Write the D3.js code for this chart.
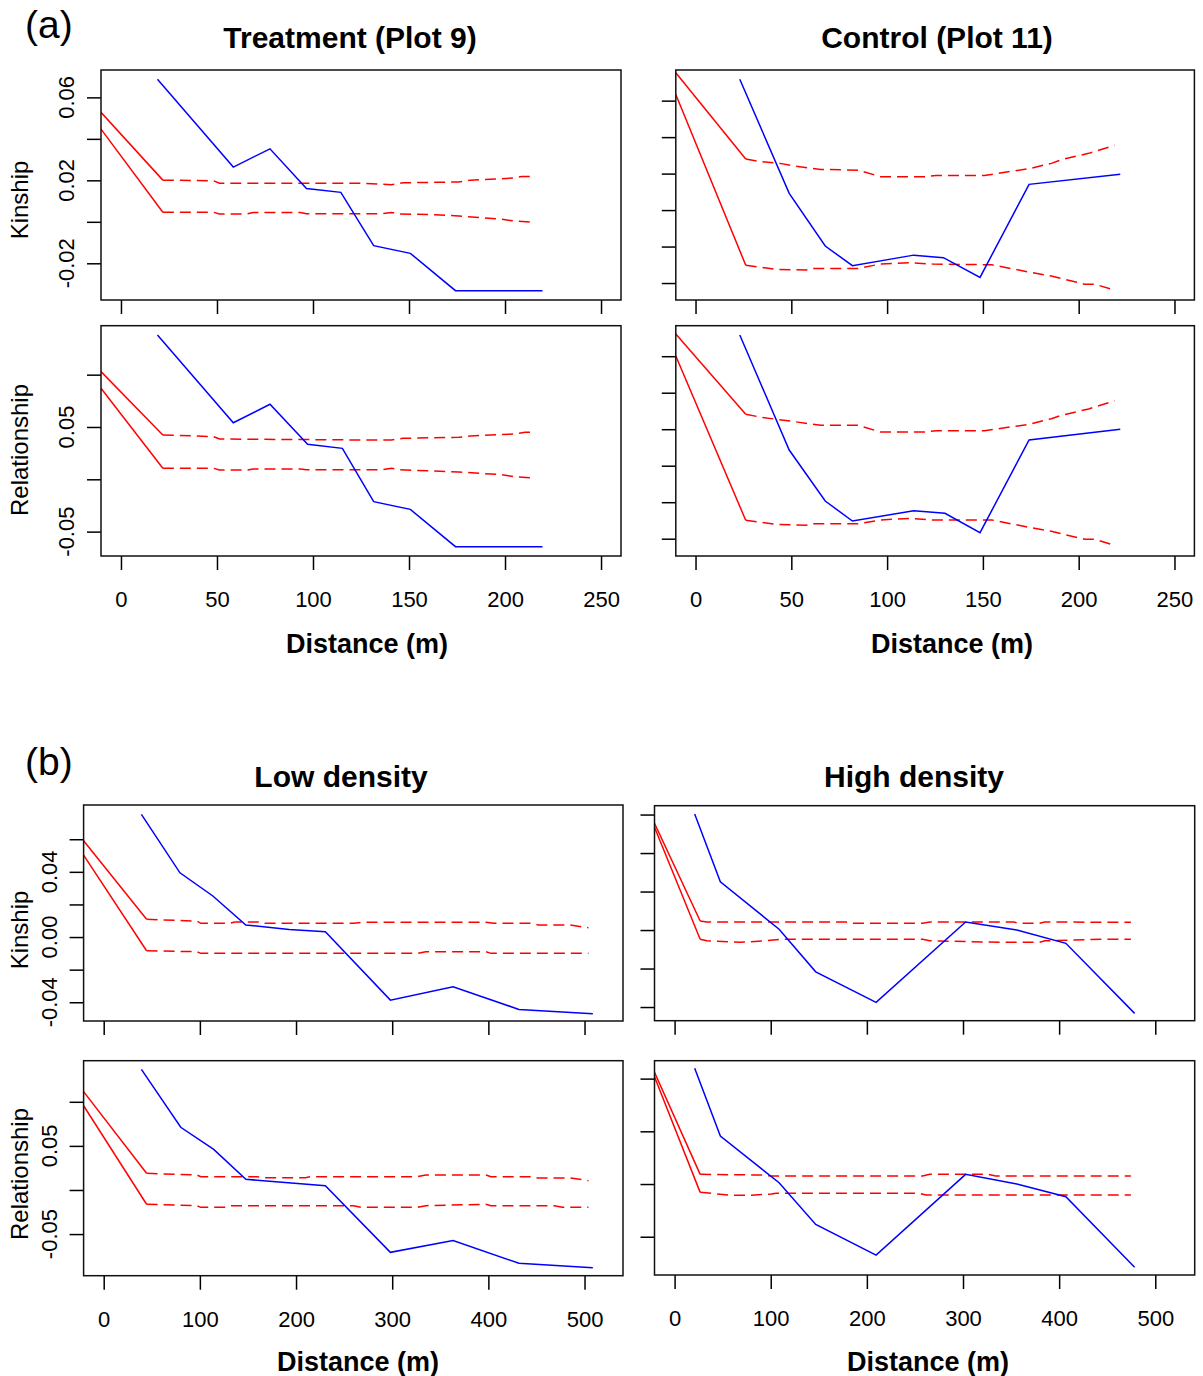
<!DOCTYPE html>
<html><head><meta charset="utf-8">
<script src="https://cdn.jsdelivr.net/npm/d3@7"></script>
<style>body{margin:0;background:#fff}text{font-family:"Liberation Sans",Arial,sans-serif}</style>
</head><body>
<svg id="c" width="1203" height="1376"></svg>
<script>
// ---------- DATA ----------
// (a) Treatment (Plot 9) - Kinship
const tkDist = [19.0, 58.5, 77.6, 96.6, 114.5, 131.6, 150.7, 174.2, 219.5];
const tkObs  = [0.0687, 0.0264, 0.0352, 0.0161, 0.0142, -0.0115, -0.0152, -0.0332, -0.0332];
const tkUpDist = [-10.4, 21.8, 48.2, 51.3, 124.4, 140.9, 147, 175.9, 182, 204.7, 208.8, 215];
const tkUp     = [0.0528, 0.0201, 0.0198, 0.0186, 0.0186, 0.0179, 0.0188, 0.0192, 0.0201, 0.0211, 0.0219, 0.0219];
const tkLoDist = [-10.4, 21.8, 48.2, 51.3, 65.7, 68.8, 93.5, 96.6, 136, 140.9, 144.8, 163.5, 175.9, 198.5, 204.7, 215];
const tkLo     = [0.0447, 0.0046, 0.0046, 0.0038, 0.0038, 0.0045, 0.0045, 0.0039, 0.0039, 0.0045, 0.0038, 0.0034, 0.0028, 0.0012, 0.0004, -0.0002];
// (a) Treatment - Relationship
const trDist = [19.0, 58.5, 77.6, 97.2, 115.3, 131.6, 150.7, 174.2, 219.5];
const trObs  = [0.138, 0.0541, 0.0717, 0.0335, 0.0296, -0.0214, -0.0287, -0.0644, -0.0644];
const trUpDist = [-10.4, 21.8, 48.2, 51.3, 124.4, 140.9, 147, 175.9, 182, 204.7, 210.4, 215];
const trUp     = [0.1029, 0.0424, 0.0408, 0.0385, 0.0376, 0.0376, 0.0392, 0.0401, 0.0414, 0.0433, 0.0449, 0.0449];
const trLoDist = [-10.4, 21.8, 48.2, 51.3, 65.7, 68.8, 93.5, 96.6, 136, 140.9, 144.8, 175.9, 198.5, 204.7, 215];
const trLo     = [0.087, 0.0105, 0.0105, 0.0089, 0.0089, 0.0099, 0.0099, 0.0092, 0.0092, 0.0105, 0.0092, 0.0070, 0.0044, 0.0025, 0.0012];
// (a) Control (Plot 11) - Kinship
const ckDist = [23.1, 48.9, 67.7, 81.9, 113.9, 129.4, 148.5, 174.1, 221.7];
const ckObs  = [0.0717, 0.0092, -0.0197, -0.0305, -0.0247, -0.0261, -0.0369, 0.0141, 0.0197];
const ckUpDist = [-10.3, 26.2, 34.4, 44.1, 51.8, 65.4, 84.8, 96.5, 119.7, 125.6, 150.8, 174.1, 185.7, 191.6, 205.2, 218.7];
const ckUp     = [0.0753, 0.028, 0.0265, 0.0256, 0.0241, 0.0223, 0.0219, 0.0183, 0.0183, 0.019, 0.019, 0.0227, 0.0256, 0.0278, 0.0311, 0.0355];
const ckLoDist = [-10.3, 26.2, 42.1, 57.7, 61.5, 84.8, 96.5, 112, 123.7, 154.7, 174.1, 185.7, 203.2, 208.3, 218.7];
const ckLo     = [0.0634, -0.0302, -0.0325, -0.0329, -0.032, -0.032, -0.0296, -0.0289, -0.0296, -0.03, -0.034, -0.0362, -0.0406, -0.0406, -0.0439];
// (a) Control - Relationship
const crDist = [23.1, 48.9, 67.7, 81.9, 113.9, 130.2, 148.5, 174.1, 221.7];
const crObs  = [0.179, 0.0215, -0.0484, -0.0758, -0.0616, -0.0652, -0.0918, 0.0352, 0.0498];
const crUpDist = [-10.3, 26.2, 34.4, 51.8, 65.4, 84.8, 96.5, 119.7, 125.6, 150.8, 174.1, 185.7, 191.6, 205.2, 218.7];
const crUp     = [0.1804, 0.0704, 0.0663, 0.0603, 0.0553, 0.0553, 0.0462, 0.0462, 0.048, 0.048, 0.0567, 0.0644, 0.0695, 0.0777, 0.089];
const crLoDist = [-10.3, 26.2, 42.1, 57.7, 61.5, 84.8, 96.5, 112, 123.7, 154.7, 174.1, 185.7, 203.2, 208.3, 218.7];
const crLo     = [0.1503, -0.0748, -0.0803, -0.0817, -0.0795, -0.0795, -0.0744, -0.0721, -0.0744, -0.0744, -0.0844, -0.0899, -0.1008, -0.1008, -0.109];
// (b) Low density - Kinship
const lkDist = [39.2, 79.3, 113.5, 147.8, 192.9, 230.5, 298.1, 363.3, 431.8, 508.6];
const lkObs  = [0.0753, 0.0394, 0.0252, 0.0074, 0.0047, 0.0033, -0.0387, -0.0305, -0.0444, -0.0471];
const lkUpDist = [-20.9, 44.6, 96.9, 101, 130.3, 136.5, 163.6, 167.9, 259.8, 268.1, 397.5, 405.9, 443.5, 451.9, 485.2, 504.1];
const lkUp     = [0.0591, 0.0109, 0.0098, 0.0084, 0.0084, 0.0092, 0.0092, 0.0084, 0.0084, 0.009, 0.009, 0.0084, 0.0084, 0.0074, 0.0074, 0.0057];
const lkLoDist = [-20.9, 44.6, 96.9, 101, 326.5, 334.9, 397.5, 402.7, 504.1];
const lkLo     = [0.0503, -0.0084, -0.009, -0.01, -0.01, -0.009, -0.009, -0.01, -0.01];
// (b) Low density - Relationship
const lrDist = [39.2, 80.1, 114.4, 147.8, 230.5, 298.1, 363.3, 431.8, 508.6];
const lrObs  = [0.1368, 0.0711, 0.0461, 0.0121, 0.0049, -0.0707, -0.0574, -0.0831, -0.0881];
const lrUpDist = [-20.9, 44.6, 96.9, 101, 159.5, 167.9, 209.6, 215.9, 326.5, 334.9, 397.5, 402.7, 443.5, 451.9, 485.2, 504.1];
const lrUp     = [0.1115, 0.0189, 0.017, 0.0151, 0.0151, 0.014, 0.014, 0.0151, 0.0151, 0.017, 0.017, 0.0151, 0.0151, 0.0136, 0.0136, 0.0106];
const lrLoDist = [-20.9, 44.6, 96.9, 101, 126.1, 132.3, 259.8, 268.1, 326.5, 334.9, 397.5, 402.7, 468.5, 476.9, 504.1];
const lrLo     = [0.0956, -0.0162, -0.0178, -0.0197, -0.0197, -0.0178, -0.0178, -0.0197, -0.0197, -0.0178, -0.0162, -0.0178, -0.0178, -0.0197, -0.0197];
// (b) High density - Kinship
const hkDist = [20.9, 47.6, 108.7, 146.8, 209.6, 302.7, 356, 407, 478.5];
const hkObs  = [0.0603, 0.0251, 0.0004, -0.0217, -0.0376, 0.0042, 0.0, -0.0069, -0.0433];
const hkUpDist = [-20.9, 26.6, 33.5, 177.9, 183.7, 257.9, 265.4, 353, 357, 379.6, 385.2, 474.6];
const hkUp     = [0.0554, 0.0047, 0.0042, 0.0042, 0.0035, 0.0035, 0.0042, 0.0042, 0.0035, 0.0035, 0.0042, 0.0040];
const hkLoDist = [-20.9, 26.6, 33.5, 67.6, 94.3, 109.6, 183.7, 257.9, 265.4, 345.4, 379.6, 385.2, 444.2, 474.6];
const hkLo     = [0.0534, -0.0048, -0.0056, -0.0064, -0.0056, -0.0048, -0.0048, -0.0048, -0.0056, -0.0064, -0.0064, -0.0056, -0.0048, -0.0048];
// (b) High density - Relationship
const hrDist = [20.9, 47.6, 108.7, 146.8, 209.6, 302.7, 356, 407, 478.5];
const hrObs  = [0.1098, 0.0455, 0.0012, -0.0383, -0.0674, 0.0092, 0.0, -0.012, -0.079];
const hrUpDist = [-20.9, 26.6, 90.5, 100.6, 257.9, 265.4, 326.3, 333.9, 474.6];
const hrUp     = [0.106, 0.0092, 0.0085, 0.0076, 0.0076, 0.0092, 0.0092, 0.0076, 0.0076];
const hrLoDist = [-20.9, 26.6, 60, 79.1, 100.6, 105.7, 254, 261.6, 474.6];
const hrLo     = [0.1018, -0.0079, -0.0107, -0.0107, -0.0095, -0.0088, -0.0088, -0.0104, -0.0104];

// tick values / labels
const xTicksA = [0, 50, 100, 150, 200, 250];
const xTicksB = [0, 100, 200, 300, 400, 500];
const kinTicksA = [-0.02, 0.0, 0.02, 0.04, 0.06];
const kinLabelsA = {"0.06":"0.06","0.02":"0.02","-0.02":"-0.02"};
const relTicksA = [-0.05, 0.0, 0.05, 0.10];
const relLabelsA = {"0.05":"0.05","-0.05":"-0.05"};
const kinTicksC = [-0.04, -0.02, 0.0, 0.02, 0.04, 0.06];
const relTicksC = [-0.10, -0.05, 0.0, 0.05, 0.10, 0.15];
const kinTicksL = [-0.04, -0.02, 0.0, 0.02, 0.04, 0.06];
const kinLabelsL = {"0.04":"0.04","0":"0.00","-0.04":"-0.04"};
const relTicksL = [-0.05, 0.0, 0.05, 0.10];
const relLabelsL = {"0.05":"0.05","-0.05":"-0.05"};
const kinTicksH = [-0.04, -0.02, 0.0, 0.02, 0.04, 0.06];
const relTicksH = [-0.05, 0.0, 0.05, 0.10];

// ---------- LAYOUT ----------
const panels = [
  {box:[101,70,621,300], xd:[-10.4,260.4], yd:[-0.0377,0.0732], xt:xTicksA, xl:false, yt:kinTicksA, yl:kinLabelsA,
   obs:[tkDist,tkObs], up:[tkUpDist,tkUp], lo:[tkLoDist,tkLo]},
  {box:[101,325.7,621,556], xd:[-10.4,260.4], yd:[-0.0733,0.1468], xt:xTicksA, xl:true, yt:relTicksA, yl:relLabelsA,
   obs:[trDist,trObs], up:[trUpDist,trUp], lo:[trLoDist,trLo]},
  {box:[675.8,70,1194.4,300], xd:[-10.3,260.4], yd:[-0.0493,0.0768], xt:xTicksA, xl:false, yt:kinTicksC, yl:null,
   obs:[ckDist,ckObs], up:[ckUpDist,ckUp], lo:[ckLoDist,ckLo]},
  {box:[675.8,325.7,1194.4,556], xd:[-10.3,260.4], yd:[-0.1237,0.1918], xt:xTicksA, xl:true, yt:relTicksC, yl:null,
   obs:[crDist,crObs], up:[crUpDist,crUp], lo:[crLoDist,crLo]},
  {box:[83.6,805,623,1021], xd:[-20.9,540.0], yd:[-0.0515,0.081], xt:xTicksB, xl:false, yt:kinTicksL, yl:kinLabelsL,
   obs:[lkDist,lkObs], up:[lkUpDist,lkUp], lo:[lkLoDist,lkLo]},
  {box:[83.6,1060.7,623,1275.7], xd:[-20.9,540.0], yd:[-0.0972,0.1466], xt:xTicksB, xl:true, yt:relTicksL, yl:relLabelsL,
   obs:[lrDist,lrObs], up:[lrUpDist,lrUp], lo:[lrLoDist,lrLo]},
  {box:[654.5,805.7,1194.7,1020.7], xd:[-20.9,541.0], yd:[-0.0471,0.0646], xt:xTicksB, xl:false, yt:kinTicksH, yl:null,
   obs:[hkDist,hkObs], up:[hkUpDist,hkUp], lo:[hkLoDist,hkLo]},
  {box:[654.5,1060.7,1194.7,1275], xd:[-20.9,541.0], yd:[-0.0863,0.117], xt:xTicksB, xl:true, yt:relTicksH, yl:null,
   obs:[hrDist,hrObs], up:[hrUpDist,hrUp], lo:[hrLoDist,hrLo]}
];

const svg = d3.select("#c");
const zip = (a,b) => a.map((d,i)=>[d,b[i]]);

panels.forEach((p,i) => {
  const [x0,y0,x1,y1] = p.box;
  const x = d3.scaleLinear().domain(p.xd).range([x0,x1]);
  const y = d3.scaleLinear().domain(p.yd).range([y1,y0]);
  const g = svg.append("g");
  const cid = "clip"+i;
  svg.append("clipPath").attr("id",cid).append("rect")
     .attr("x",x0).attr("y",y0).attr("width",x1-x0).attr("height",y1-y0);
  const line = d3.line().x(d=>x(d[0])).y(d=>y(d[1]));
  const pg = g.append("g").attr("clip-path",`url(#${cid})`);
  const up = zip(p.up[0],p.up[1]), lo = zip(p.lo[0],p.lo[1]);
  [up,lo].forEach(arr => {
    pg.append("path").attr("d",line(arr.slice(0,2))).attr("fill","none")
      .attr("stroke","#ff0000").attr("stroke-width",1.5);
    pg.append("path").attr("d",line(arr.slice(1))).attr("fill","none")
      .attr("stroke","#ff0000").attr("stroke-width",1.5).attr("stroke-dasharray","11,6");
  });
  pg.append("path").attr("d",line(zip(p.obs[0],p.obs[1]))).attr("fill","none")
    .attr("stroke","#0000ff").attr("stroke-width",1.5);

  // x axis
  const xa = d3.axisBottom(x).tickValues(p.xt).tickSize(14).tickSizeOuter(0)
     .tickFormat(p.xl ? d3.format("d") : "");
  const gx = g.append("g").attr("transform",`translate(0,${y1})`).call(xa);
  gx.select(".domain").remove();
  gx.selectAll(".tick line").attr("stroke","#000").attr("stroke-width",1.5);
  gx.selectAll(".tick text").attr("font-size",22).attr("fill","#000").attr("dy",null).attr("y",null)
     .attr("transform","translate(0,51)");
  // y axis
  const ya = d3.axisLeft(y).tickValues(p.yt).tickSize(14).tickSizeOuter(0).tickFormat("");
  const gy = g.append("g").attr("transform",`translate(${x0},0)`).call(ya);
  gy.select(".domain").remove();
  gy.selectAll(".tick line").attr("stroke","#000").attr("stroke-width",1.5);
  if (p.yl) {
    p.yt.forEach(v => {
      const key = String(+v.toFixed(2));
      const lab = p.yl[key];
      if (!lab) return;
      g.append("text").attr("transform",`translate(${x0-27},${y(v)}) rotate(-90)`)
       .attr("text-anchor","middle").attr("font-size",22).attr("fill","#000").text(lab);
    });
  }
  // box
  g.append("rect").attr("x",x0).attr("y",y0).attr("width",x1-x0).attr("height",y1-y0)
   .attr("fill","none").attr("stroke","#111").attr("stroke-width",1.5);
});

// texts
const T = (txt,xx,yy,size,weight,anchor,rot) => {
  const t = svg.append("text").attr("font-size",size).attr("font-weight",weight||"normal")
    .attr("text-anchor",anchor||"middle").attr("fill","#000").text(txt);
  if (rot) t.attr("transform",`translate(${xx},${yy}) rotate(-90)`);
  else t.attr("x",xx).attr("y",yy);
};
T("(a)",25,38,39,"normal","start");
T("(b)",25,775,39,"normal","start");
T("Treatment (Plot 9)",350,48,30,"bold");
T("Control (Plot 11)",937,48,30,"bold");
T("Low density",341,787,30,"bold");
T("High density",914,787,30,"bold");
T("Kinship",28,200,24,"normal","middle",true);
T("Relationship",28,450,24,"normal","middle",true);
T("Kinship",28,930,24,"normal","middle",true);
T("Relationship",28,1174,24,"normal","middle",true);
T("Distance (m)",367,653,27,"bold");
T("Distance (m)",952,653,27,"bold");
T("Distance (m)",358,1371,27,"bold");
T("Distance (m)",928,1371,27,"bold");
</script>
</body></html>
